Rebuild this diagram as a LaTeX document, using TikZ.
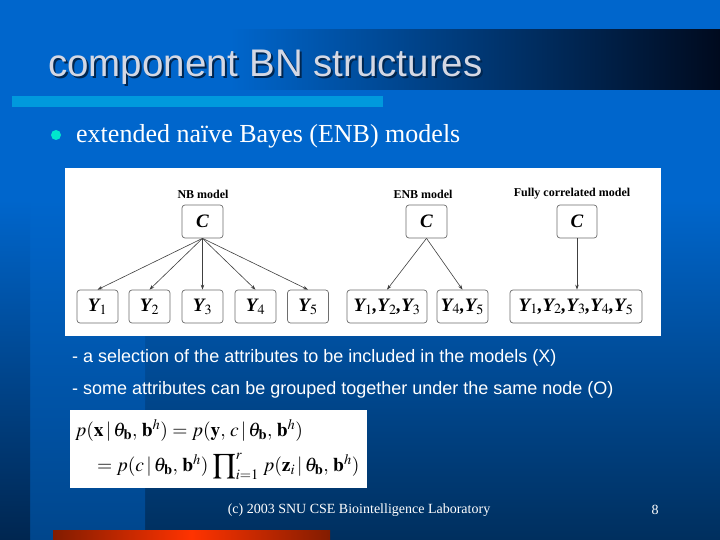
\documentclass[tikz,border=0pt]{standalone}
\usepackage{mathptmx}
\usepackage{fontspec}
\setmainfont{Liberation Serif}
\setsansfont{Liberation Sans}
\usetikzlibrary{positioning,arrows.meta,shadings}

\definecolor{slideblue}{RGB}{0,102,204}
\definecolor{slidenavy}{RGB}{0,47,94}
\definecolor{bandblue}{RGB}{0,70,140}
\definecolor{edgenavy}{RGB}{0,38,80}
\definecolor{titledark}{RGB}{0,10,30}
\definecolor{titlegray}{RGB}{212,216,228}
\definecolor{rulecyan}{RGB}{0,153,221}
\definecolor{bulletcyan}{RGB}{0,230,205}
\definecolor{barred}{RGB}{255,51,0}
\definecolor{bardark}{RGB}{130,28,0}
\definecolor{boxgray}{RGB}{110,110,110}

\begin{document}
\begin{tikzpicture}[
    x=1pt, y=-1pt,
    varbox/.style={draw=boxgray, line width=0.7pt, rounded corners=3pt, fill=white,
        minimum height=33pt, minimum width=41pt, inner sep=1pt,
        font=\fontsize{19}{21}\selectfont\bfseries\itshape},
    modellabel/.style={font=\fontsize{12}{14}\selectfont\bfseries},
    edge/.style={draw=black!75, line width=0.6pt, -{Stealth[length=5pt,width=3.5pt]}},
    notetext/.style={font=\sffamily\fontsize{18}{20}\selectfont, text=white, anchor=west, inner sep=0pt},
    eqtext/.style={font=\fontsize{19.5}{35}\selectfont, align=left, anchor=north west, inner sep=0pt},
]

\def\yC{221.5}  \def\yY{306.5}

% Background
\fill[slideblue] (0,0) rectangle (720,200);
\shade[top color=slideblue, bottom color=slidenavy] (0,200) rectangle (720,540);
\shade[top color=slideblue, bottom color=bandblue] (30,200) rectangle (145,540);
\shade[top color=slideblue, bottom color=edgenavy] (0,200) rectangle (30,540);

% Title bar
\shade[left color=slideblue, right color=titledark] (230,30) rectangle (720,90);
\node[font=\sffamily\fontsize{38.5}{40}\selectfont, text=edgenavy, anchor=base west, inner sep=0pt] (titleshadow) at (50,79) {component BN structures};
\node[font=\sffamily\fontsize{38.5}{40}\selectfont, text=titlegray, anchor=base west, inner sep=0pt] (title) at (48,77) {component BN structures};
\fill[rulecyan] (12,96) rectangle (383,107);

% Bullet
\fill[bulletcyan] (56,135) circle (5);
\node[font=\fontsize{26}{28}\selectfont, text=white, anchor=base west, inner sep=0pt] (bullet) at (76,143) {extended naïve Bayes (ENB) models};

% Figure panel
\fill[white] (65,168) rectangle (661,336);
\node[modellabel] (nblabel) at (203,194) {NB model};
\node[modellabel] (enblabel) at (423,194) {ENB model};
\node[modellabel] (fclabel) at (572,194) {Fully correlated model};

\node[varbox] (cNB) at (202.5,\yC) {C};
\node[varbox] (cENB) at (426.5,\yC) {C};
\node[varbox, minimum width=40pt] (cFC) at (577,\yC) {C};

\foreach \i/\xx in {1/97.5, 2/149.5, 3/202.5, 4/255.5, 5/308} {
    \node[varbox] (y\i) at (\xx,\yY) {Y$_{\mathrm{\i}}$};
    \draw[edge] (cNB.south) -- (y\i.north);
}
\node[varbox, minimum width=80pt] (y123) at (387,\yY) {Y$_{\mathrm{1}}$,Y$_{\mathrm{2}}$,Y$_{\mathrm{3}}$};
\node[varbox, minimum width=51pt] (y45) at (462.5,\yY) {Y$_{\mathrm{4}}$,Y$_{\mathrm{5}}$};
\node[varbox, minimum width=132pt] (yall) at (576,\yY) {Y$_{\mathrm{1}}$,Y$_{\mathrm{2}}$,Y$_{\mathrm{3}}$,Y$_{\mathrm{4}}$,Y$_{\mathrm{5}}$};
\draw[edge] (cENB.south) -- (y123.north);
\draw[edge] (cENB.south) -- (y45.north);
\draw[edge] (cFC.south) -- (yall.north -| cFC.south);

% Notes
\node[notetext] (note1) at (72,358) {- a selection of the attributes to be included in the models (X)};
\node[notetext] (note2) at (72,390) {- some attributes can be grouped together under the same node (O)};

% Formula panel
\fill[white] (70,410) rectangle (367,488);
\node[eqtext] (eq) at (75,419) {$p(\mathbf{x}\,|\,\theta_{\mathbf{b}},\,\mathbf{b}^{h}) = p(\mathbf{y},\,c\,|\,\theta_{\mathbf{b}},\,\mathbf{b}^{h})$\\
    \hspace*{22pt}$= p(c\,|\,\theta_{\mathbf{b}},\,\mathbf{b}^{h})\;{\displaystyle\prod\nolimits_{i=1}^{r}}\; p(\mathbf{z}_{i}\,|\,\theta_{\mathbf{b}},\,\mathbf{b}^{h})$};

% Footer
\node[font=\fontsize{14}{16}\selectfont, text=white] (footer) at (359,510) {(c) 2003 SNU CSE Biointelligence Laboratory};
\node[font=\fontsize{14}{16}\selectfont, text=white] (pagenum) at (655,510) {8};
\shade[left color=bardark, right color=bardark, middle color=barred] (53,530) rectangle (330,540);

\useasboundingbox (0,0) rectangle (720,540);
\end{tikzpicture}
\end{document}
